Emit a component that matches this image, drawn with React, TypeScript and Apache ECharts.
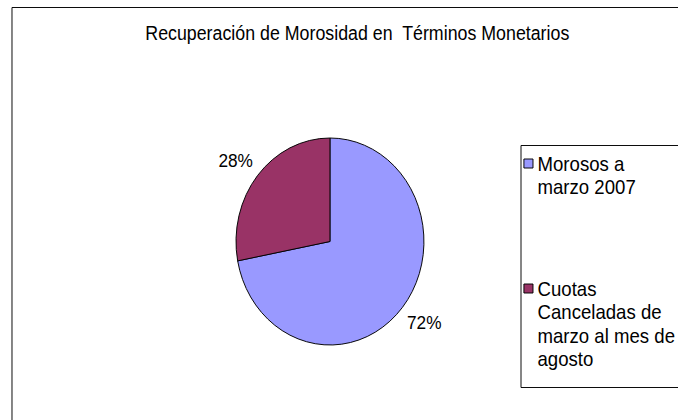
import React, { useEffect, useRef } from 'react';
import * as echarts from 'echarts';

const titleText = 'Recuperación de Morosidad en  Términos Monetarios';
const categories = ['Morosos a marzo 2007', 'Cuotas Canceladas de marzo al mes de agosto'];
const legendLines = [
  ['Morosos a', 'marzo 2007'],
  ['Cuotas', 'Canceladas de', 'marzo al mes de', 'agosto'],
];
const values = [72, 28];
const colors = ['#9999FF', '#993366'];

const SX = 0.908; // the picture is squeezed horizontally
const W = Math.round(678 / SX);
const H = 420;
const TITLE_FONT = 19.6;
const FONT = 20.5;
const LABEL_FONT = 19;
const LH = 23.5;
const FAMILY = '"Liberation Sans", Arial, sans-serif';

export default function App() {
  const ref = useRef<HTMLDivElement>(null);
  useEffect(() => {
    document.body.style.margin = '0';
    if (!ref.current) return;
    const chart = echarts.init(ref.current, undefined, { renderer: 'svg', width: W, height: H });
    const firstLineY = [162, 287];
    const option: any = {
      animation: false,
      backgroundColor: '#fff',
      title: {
        text: titleText,
        left: 160,
        top: 23,
        padding: 0,
        textStyle: { fontSize: TITLE_FONT, fontWeight: 'normal', color: '#000', fontFamily: FAMILY },
      },
      legend: categories.map((name, i) => ({
        orient: 'vertical',
        left: 576.5,
        top: firstLineY[i] - (legendLines[i].length - 1) * LH - FONT / 2,
        padding: 0,
        selectedMode: false,
        icon: 'rect',
        itemWidth: 10,
        itemHeight: 9,
        itemStyle: { borderColor: '#000', borderWidth: 1 },
        formatter: (n: string) => {
          const lines = legendLines[categories.indexOf(n)];
          return '\n'.repeat(lines.length - 1) + lines.join('\n');
        },
        textStyle: { fontSize: FONT, lineHeight: LH, color: '#000', fontFamily: FAMILY },
        data: [name],
      })),
      graphic: [
        {
          type: 'rect',
          silent: true,
          shape: { x: 13.2, y: 7.5, width: 900, height: 600 },
          style: { fill: 'none', stroke: '#000', lineWidth: 1 },
        },
        {
          type: 'rect',
          silent: true,
          shape: { x: 573.8, y: 145.5, width: 400, height: 242 },
          style: { fill: 'none', stroke: '#000', lineWidth: 1 },
        },
      ],
      series: [
        {
          type: 'pie',
          center: [363.4, 241.5],
          radius: 103.5,
          startAngle: 90,
          clockwise: true,
          avoidLabelOverlap: false,
          itemStyle: { borderColor: '#000', borderWidth: 1 },
          emphasis: { disabled: true },
          label: {
            show: true,
            position: 'outside',
            formatter: (p: any) => Math.round(p.percent) + '%',
            fontSize: LABEL_FONT,
            color: '#000',
            fontFamily: FAMILY,
          },
          labelLine: { show: false, length: 23.5, length2: -18 },
          data: categories.map((name, i) => ({
            name,
            value: values[i],
            itemStyle: { color: colors[i] },
          })),
        },
      ],
    };
    chart.setOption(option);
    return () => chart.dispose();
  }, []);
  return (
    <div style={{ width: 678, height: H, overflow: 'hidden', position: 'relative', background: '#fff' }}>
      <div
        ref={ref}
        style={{ width: W, height: H, transform: `scaleX(${SX})`, transformOrigin: '0 0' }}
      />
    </div>
  );
}
